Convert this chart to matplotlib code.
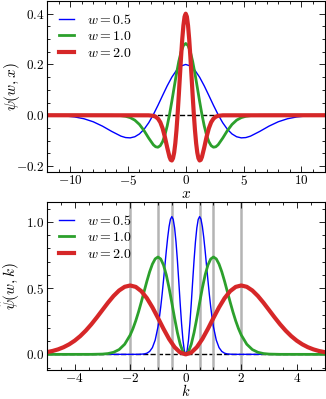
import matplotlib
matplotlib.use("Agg")
import matplotlib.pyplot as plt
import numpy as np
from matplotlib.ticker import MultipleLocator, FuncFormatter

plt.rcParams["mathtext.fontset"] = "cm"
plt.rcParams["font.family"] = "serif"
plt.rcParams["font.size"] = 9.5

# widths of the wavelets
widths = [0.5, 1.0, 2.0]
labels = ["$w = 0.5$", "$w = 1.0$", "$w = 2.0$"]

x_blue = [0, 0.4, 0.8, 1.2, 1.6, 2.0, 2.4, 2.8, 3.2, 3.6, 4.0, 4.4, 4.8, 5.2, 5.6,
          6.4, 7.2, 8.0, 8.8, 9.6, 10.4, 11.2, 12.0]
psi_blue = [0.2, 0.1941, 0.1768, 0.1499, 0.1159, 0.0779, 0.0391, 0.0025, -0.0296,
            -0.0552, -0.0736, -0.0847, -0.0891, -0.0879, -0.0823,
            -0.0637, -0.0429, -0.0257, -0.0138, -0.0067, -0.0029, -0.0012, -0.0004]

x_green = [0, 0.2, 0.4, 0.6, 0.8, 1.0, 1.2, 1.4, 1.6, 1.8, 2.0, 2.2, 2.4, 2.6, 2.8,
           3.2, 3.6, 4.0, 4.4, 4.8, 5.2, 5.6, 6.4, 12.0]
psi_green = [0.2828, 0.2744, 0.2500, 0.2120, 0.1639, 0.1102, 0.0552, 0.0035, -0.0418,
             -0.0780, -0.1041, -0.1198, -0.1260, -0.1242, -0.1164,
             -0.0901, -0.0607, -0.0363, -0.0194, -0.0094, -0.0041, -0.0016, -0.0002, 0.0]

x_red = [0, 0.1, 0.2, 0.3, 0.4, 0.5, 0.6, 0.7, 0.8, 0.9, 1.0, 1.1, 1.2, 1.3, 1.4,
         1.6, 1.8, 2.0, 2.2, 2.4, 2.6, 2.8, 3.2, 12.0]
psi_red = [0.4, 0.3881, 0.3536, 0.2998, 0.2318, 0.1558, 0.0781, 0.0049, -0.0591,
           -0.1103, -0.1472, -0.1694, -0.1782, -0.1757, -0.1646,
           -0.1274, -0.0858, -0.0513, -0.0275, -0.0133, -0.0058, -0.0023, -0.0003, 0.0]

# bottom panel: psi_hat(w, k), k >= 0
k_blue = [0, 0.05, 0.1, 0.15, 0.2, 0.25, 0.3, 0.35, 0.4, 0.45, 0.5, 0.55, 0.6, 0.65,
          0.7, 0.75, 0.8, 0.85, 0.9, 0.95, 1.0, 1.1, 1.2, 1.3, 1.4, 1.5, 1.7, 5.0]
psihat_blue = [0, 0.0280, 0.1087, 0.2325, 0.3854, 0.5505, 0.7100, 0.8486, 0.9540,
               1.0187, 1.04, 1.0200, 0.9645, 0.8816, 0.7805, 0.6704, 0.5594, 0.4541,
               0.3588, 0.2760, 0.2071, 0.1082, 0.0513, 0.0222, 0.0087, 0.0031, 0.0003, 0.0]

k_green = [0, 0.1, 0.2, 0.3, 0.4, 0.5, 0.6, 0.7, 0.8, 0.9, 1.0, 1.1, 1.2, 1.3, 1.4,
           1.5, 1.6, 1.7, 1.8, 1.9, 2.0, 2.2, 2.4, 2.6, 2.8, 3.0, 3.4, 5.0]
psihat_green = [0, 0.0198, 0.0768, 0.1643, 0.2724, 0.3890, 0.5018, 0.5998, 0.6742,
                0.7199, 0.735, 0.7209, 0.6816, 0.6231, 0.5516, 0.4738, 0.3954, 0.3209,
                0.2536, 0.1951, 0.1463, 0.0764, 0.0362, 0.0157, 0.0062, 0.0022, 0.0002, 0.0]

k_red = [0, 0.2, 0.4, 0.6, 0.8, 1.0, 1.2, 1.4, 1.6, 1.8, 2.0, 2.2, 2.4, 2.6, 2.8,
         3.0, 3.2, 3.4, 3.6, 3.8, 4.0, 4.2, 4.4, 4.6, 4.8, 5.0]
psihat_red = [0, 0.0140, 0.0543, 0.1163, 0.1927, 0.2752, 0.3550, 0.4243, 0.4770,
              0.5093, 0.52, 0.5100, 0.4822, 0.4408, 0.3903, 0.3352, 0.2797, 0.2270,
              0.1794, 0.1380, 0.1035, 0.0758, 0.0541, 0.0377, 0.0256, 0.0171]


def mirror(x, y):
    x = np.asarray(x, dtype=float)
    y = np.asarray(y, dtype=float)
    return np.concatenate([-x[:0:-1], x]), np.concatenate([y[:0:-1], y])


colors = ["#0000ff", "#2ca02c", "#d62728"]
lws = [1, 2, 3]


def style(ax, xmajor, xminor, ymajor, yminor, yfmt):
    ax.xaxis.set_major_locator(MultipleLocator(xmajor))
    ax.xaxis.set_minor_locator(MultipleLocator(xminor))
    ax.yaxis.set_major_locator(MultipleLocator(ymajor))
    ax.yaxis.set_minor_locator(MultipleLocator(yminor))
    ax.xaxis.set_major_formatter(FuncFormatter(lambda v, p: "$%g$" % v))
    ax.yaxis.set_major_formatter(FuncFormatter(lambda v, p: ("$" + yfmt + "$") % v))
    ax.tick_params(which="both", direction="in", top=True, right=True, pad=2,
                   labelsize=9.5)
    ax.tick_params(axis="x", which="both", pad=1.5)
    ax.tick_params(which="major", length=4.5, width=0.6)
    ax.tick_params(which="minor", length=2.5, width=0.6)
    for s in ax.spines.values():
        s.set_linewidth(0.8)


def legend(ax):
    ax.legend(loc="upper left", frameon=False, fontsize=10, handlelength=1.1,
              handletextpad=0.9, borderaxespad=0.55, borderpad=0.3,
              labelspacing=0.18)


fig = plt.figure(figsize=(3.26, 3.99), dpi=100)

# ---- top: wavelets in x
ax1 = fig.add_axes([0.144, 0.568, 0.8514, 0.4295])
ax1.plot([-12, 12], [0, 0], "--k", lw=1, zorder=1)
for xs, ys, c, lw, lab in zip([x_blue, x_green, x_red], [psi_blue, psi_green, psi_red],
                              colors, lws, labels):
    xx, yy = mirror(xs, ys)
    ax1.plot(xx, yy, color=c, lw=lw, label=lab, zorder=2)
ax1.set_xlim(-12, 12)
ax1.set_ylim(-0.225, 0.45)
style(ax1, 5, 1, 0.2, 0.05, "%.1f")
ax1.set_xlabel("$x$", fontsize=11)
ax1.set_ylabel("$\\psi(w, x)$", fontsize=11)
ax1.xaxis.set_label_coords(0.5, -0.088)
ax1.yaxis.set_label_coords(-0.09, 0.5)
legend(ax1)

# ---- bottom: Fourier transforms in k
ax2 = fig.add_axes([0.144, 0.072, 0.8514, 0.4217])
ax2.plot([-5, 5], [0, 0], "--k", lw=1, zorder=1)
for w in widths:
    ax2.axvline(w, color="#b4b4b4", lw=1.8, zorder=1)
    ax2.axvline(-w, color="#b4b4b4", lw=1.8, zorder=1)
for ks, ys, c, lw, lab in zip([k_blue, k_green, k_red],
                              [psihat_blue, psihat_green, psihat_red],
                              colors, lws, labels):
    kk, yy = mirror(ks, ys)
    ax2.plot(kk, yy, color=c, lw=lw, label=lab, zorder=2)
ax2.set_xlim(-5, 5)
ax2.set_ylim(-0.12, 1.15)
style(ax2, 2, 0.5, 0.5, 0.1, "%.1f")
ax2.set_xlabel("$k$", fontsize=10.5)
ax2.set_ylabel("$\\hat{\\psi}(w, k)$", fontsize=11)
ax2.xaxis.set_label_coords(0.5, -0.075)
ax2.yaxis.set_label_coords(-0.09, 0.5)
legend(ax2)

fig.savefig("out.png", dpi=100)
